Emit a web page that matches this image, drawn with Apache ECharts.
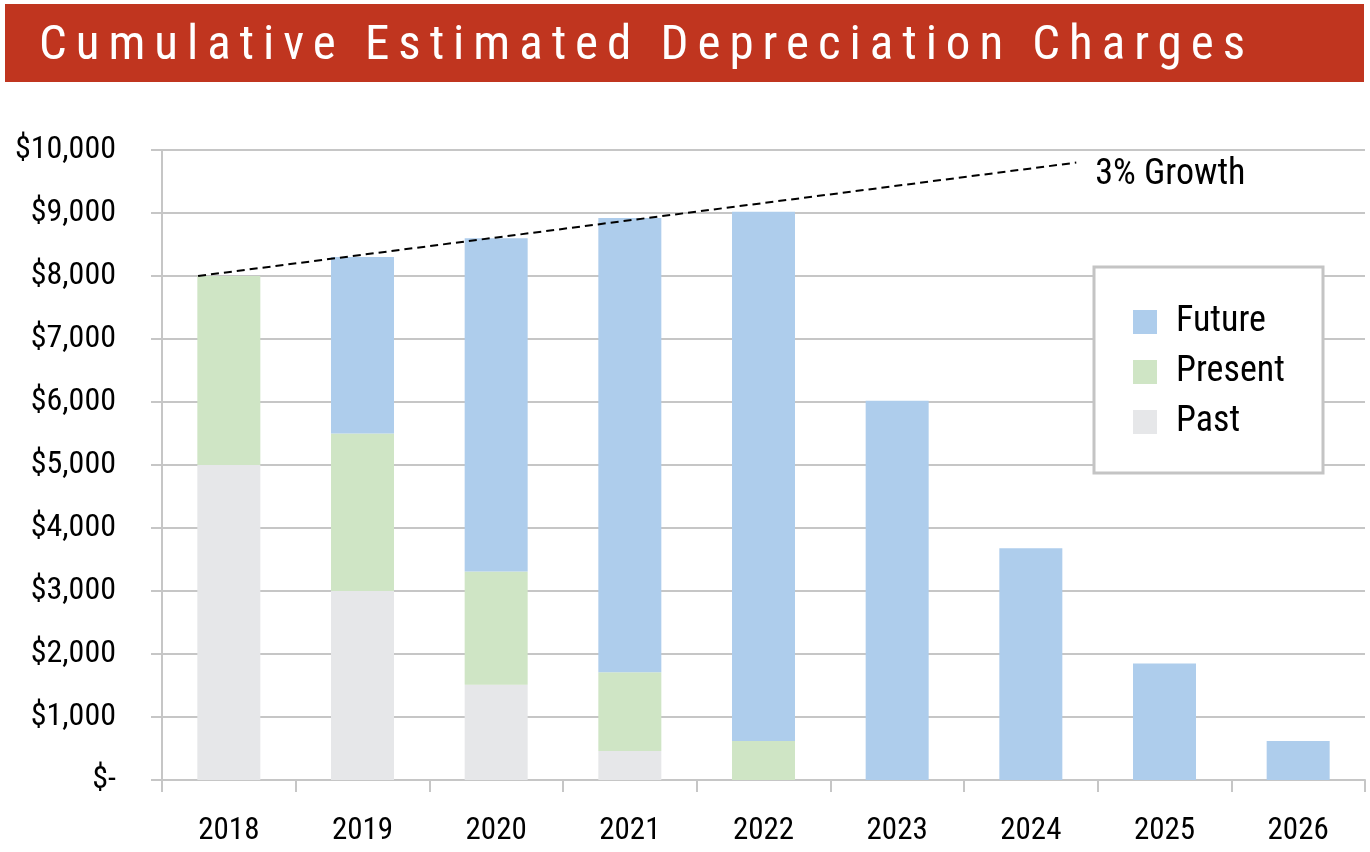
<!DOCTYPE html>
<html>
<head>
<meta charset="utf-8">
<title>Cumulative Estimated Depreciation Charges</title>
<script src="https://cdn.jsdelivr.net/npm/echarts@6/dist/echarts.min.js"></script>
<style>
	html, body { margin: 0; padding: 0; background: #fff; }
	#wrap { position: relative; width: 1370px; height: 852px; overflow: hidden; }
	#chart { position: absolute; left: 0; top: 0; width: 1370px; height: 852px; }
	#title {
		position: absolute; left: 5px; top: 4px; width: 1359px; height: 78px;
		background: #c0351f; color: #fff; z-index: 2;
		font-family: "Roboto Condensed", "DejaVu Sans Condensed", sans-serif;
		font-size: 49px; line-height: 78px; padding-left: 34px;
		box-sizing: border-box; white-space: nowrap;
	}
</style>
</head>
<body>
<div id="wrap">
	<div id="chart"></div>
	<div id="title">Cumulative Estimated Depreciation Charges</div>
</div>
<script>
var FONT = '"Roboto Condensed", "DejaVu Sans Condensed", sans-serif';

// data
var years = ['2018', '2019', '2020', '2021', '2022', '2023', '2024', '2025', '2026'];
var past = [5000, 3000, 1510, 460, 0, 0, 0, 0, 0];
var present = [3000, 2500, 1800, 1250, 620, 0, 0, 0, 0];
var future = [0, 2800, 5290, 7210, 8400, 6020, 3680, 1850, 620];
// dashed 3% growth line, x in category units (0 = left edge of 2018)
var growthLine = [[0.27, 8000], [6.84, 9800]];
var yTicks = { min: 0, max: 10000, step: 1000 };

// spread the title letters across the bar
(function() {
	var el = document.getElementById('title');
	var txt = el.textContent;
	var ctx = document.createElement('canvas').getContext('2d');
	ctx.font = '49px ' + FONT;
	var w = ctx.measureText(txt).width;
	var sp = (1206 - w) / (txt.length - 1);
	el.style.letterSpacing = sp + 'px';
})();

var myChart = echarts.init(document.getElementById('chart'));

var option = {
	animation : false,
	textStyle : { fontFamily : FONT },
	grid : {
		left : 162,
		right : 5,
		top : 150,
		bottom : 72,
		outerBoundsMode : 'none'
	},
	graphic : [ {
		type : 'rect',
		z : 3,
		shape : { x : 1094, y : 267, width : 229, height : 206 },
		style : { fill : '#fff', stroke : '#c4c4c4', lineWidth : 3 }
	} ],
	legend : {
		data : [ 'Future', 'Present', 'Past' ],
		orient : 'vertical',
		left : 1133,
		top : 304,
		z : 5,
		icon : 'rect',
		itemWidth : 24,
		itemHeight : 24,
		itemGap : 14,
		padding : 0,
		selectedMode : false,
		textStyle : {
			fontFamily : FONT,
			fontSize : 36,
			lineHeight : 24,
			color : '#000',
			padding : [ 0, 0, 0, 14 ]
		}
	},
	xAxis : [ {
		type : 'category',
		data : years,
		axisLine : { lineStyle : { color : '#c6c6c6', width : 2 } },
		axisTick : { show : true, length : 12, lineStyle : { color : '#c6c6c6', width : 2 } },
		axisLabel : { margin : 36, fontSize : 31, color : '#000', fontFamily : FONT }
	}, {
		type : 'value',
		min : 0,
		max : years.length,
		show : false
	} ],
	yAxis : [ {
		type : 'value',
		min : yTicks.min,
		max : yTicks.max,
		interval : yTicks.step,
		offset : 3,
		axisLine : { show : true, lineStyle : { color : '#c6c6c6', width : 2 } },
		axisTick : { show : true, length : 11, lineStyle : { color : '#c6c6c6', width : 2 } },
		splitLine : { lineStyle : { color : '#c6c6c6', width : 2 } },
		axisLabel : {
			margin : 43,
			fontSize : 32,
			color : '#000',
			fontFamily : FONT,
			padding : [ 9, 0, 0, 0 ],
			formatter : function(v) {
				if (v === 0) return '$-';
				return '$' + v.toLocaleString('en-US');
			}
		}
	} ],
	series : [ {
		name : 'Past',
		type : 'bar',
		stack : 'total',
		barWidth : 63,
		itemStyle : { color : '#e6e7e9' },
		data : past
	}, {
		name : 'Present',
		type : 'bar',
		stack : 'total',
		barWidth : 63,
		itemStyle : { color : '#cfe5c5' },
		data : present
	}, {
		name : 'Future',
		type : 'bar',
		stack : 'total',
		barWidth : 63,
		itemStyle : { color : '#aecdec' },
		data : future
	}, {
		name : '3% Growth',
		type : 'line',
		xAxisIndex : 1,
		symbol : 'none',
		z : 6,
		lineStyle : { color : '#000', width : 2, type : [ 8, 5 ] },
		endLabel : {
			show : true,
			formatter : '3% Growth',
			distance : 19,
			offset : [ 0, 12 ],
			fontSize : 36,
			color : '#000',
			fontFamily : FONT
		},
		data : growthLine
	} ]
};

myChart.setOption(option);
</script>
</body>
</html>
